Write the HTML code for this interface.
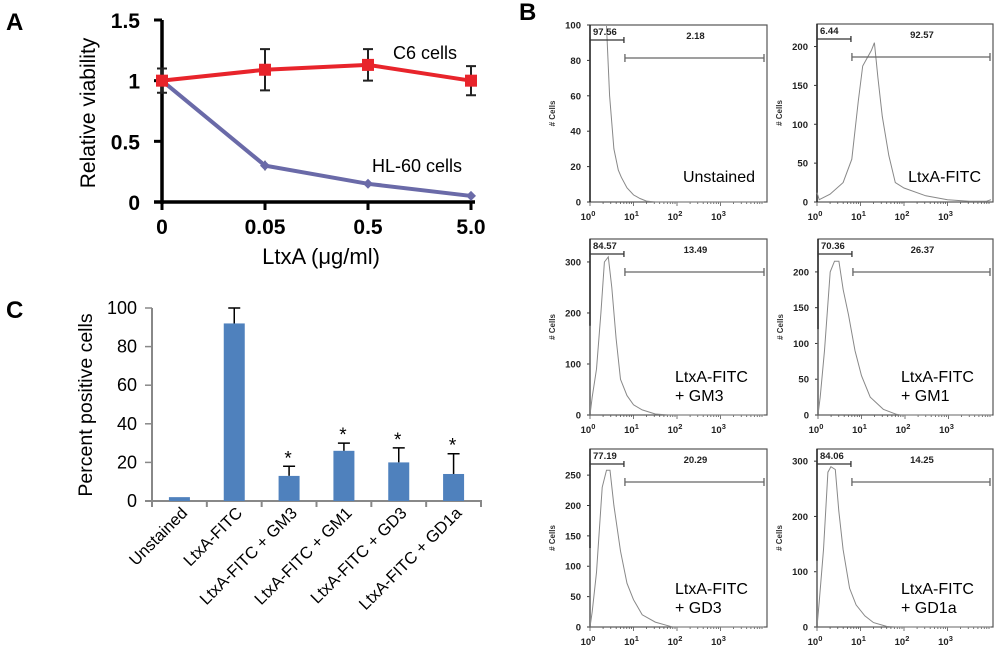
<!DOCTYPE html>
<html><head><meta charset="utf-8">
<style>
html,body{margin:0;padding:0;background:#fff;}
svg{display:block;font-family:"Liberation Sans",Arial,sans-serif;}
</style></head>
<body>
<svg id="fig" width="1000" height="652" viewBox="0 0 1000 652" xmlns="http://www.w3.org/2000/svg">
<text x="6" y="30" font-size="24" font-weight="bold">A</text>
<text x="519" y="20" font-size="24" font-weight="bold">B</text>
<text x="6" y="318" font-size="24" font-weight="bold">C</text>
<g id="pa"></g>
<g id="pc"></g>
<g id="pb"></g>
</svg>
<script>
// ---------- Panel A data ----------
const aCategories = ["0","0.05","0.5","5.0"];
const aYTicks = [0,0.5,1,1.5];
const aYTickLabels = ["0","0.5","1","1.5"];
const c6Values = [1.0,1.09,1.13,1.0];
const c6Errors = [0.1,0.17,0.13,0.12];
const hl60Values = [1.0,0.30,0.15,0.05];
const hl60Errors = [0.02,0.04,0.02,0.01];
// ---------- Panel C data ----------
const cCategories = ["Unstained","LtxA-FITC","LtxA-FITC + GM3","LtxA-FITC + GM1","LtxA-FITC + GD3","LtxA-FITC + GD1a"];
const cValues = [2,92,13,26,20,14];
const cErrors = [0,8,5,4,7.5,10.5];
const cStars = [false,false,true,true,true,true];
const cYTicks = [0,20,40,60,80,100];
// ---------- Panel B data ----------
const bNames = [["Unstained"],["LtxA-FITC"],["LtxA-FITC","+ GM3"],["LtxA-FITC","+ GM1"],["LtxA-FITC","+ GD3"],["LtxA-FITC","+ GD1a"]];
const bLeftGate = ["97.56","6.44","84.57","70.36","77.19","84.06"];
const bRightGate = ["2.18","92.57","13.49","26.37","20.29","14.25"];
const bYMax = [100,229,345,246,293,322];
const bYTicks = [[0,20,40,60,80,100],[0,50,100,150,200],[0,100,200,300],[0,50,100,150,200],[0,50,100,150,200,250],[0,100,200,300]];
const bHistX = [
 [0.38,0.45,0.55,0.65,0.72,0.85,1.0,1.15,1.3,1.5,2,3,4],
 [0,0.05,0.3,0.6,0.8,0.95,1.05,1.15,1.25,1.32,1.4,1.5,1.65,1.8,2.0,2.5,3.0,3.5,3.9,4],
 [0,0,0.05,0.15,0.25,0.33,0.42,0.5,0.6,0.7,0.85,1.0,1.2,1.5,1.8,4],
 [0,0,0.05,0.15,0.28,0.38,0.48,0.58,0.7,0.85,1.0,1.2,1.5,1.8,1.9,4],
 [0,0,0.05,0.15,0.28,0.38,0.46,0.55,0.7,0.85,1.0,1.2,1.5,1.8,1.9,4],
 [0,0,0.05,0.15,0.25,0.32,0.42,0.5,0.6,0.75,0.9,1.1,1.3,1.6,1.8,4]];
const bHistY = [
 [110,60,30,18,14,8,4,2,0.5,0,0,0,0],
 [12,3,10,25,55,130,175,185,195,205,160,110,60,25,18,8,3,1,1,3],
 [175,0,35,90,200,300,310,250,150,70,38,20,10,2,0,0],
 [120,0,25,90,200,215,215,175,140,90,55,25,8,1,0,0],
 [130,0,25,90,230,258,258,200,125,72,45,20,8,2,0,0],
 [120,0,45,140,280,290,285,210,140,70,40,20,8,1,0,0]];

const NS="http://www.w3.org/2000/svg";
function mk(parent,tag,attrs,text){const e=document.createElementNS(NS,tag);for(const k in attrs)e.setAttribute(k,attrs[k]);if(text!==undefined)e.textContent=text;parent.appendChild(e);return e;}

// ================= Panel A =================
(function(){
 const g=document.getElementById('pa');
 const x0=162,x1=471,y0=202,yTop=20;
 const xA=i=>x0+i*(x1-x0)/(aCategories.length-1);
 const yA=v=>y0-(v/1.5)*(y0-yTop);
 let e=mk(g,'line',{x1:x0,y1:yTop,x2:x0,y2:y0+2,stroke:'#000','stroke-width':3.5});
 
 e=mk(g,'line',{x1:154,y1:y0,x2:475,y2:y0,stroke:'#000','stroke-width':3.5});
 
 aYTicks.forEach((v,i)=>{
  mk(g,'line',{x1:154,y1:yA(v),x2:x0,y2:yA(v),stroke:'#000','stroke-width':3});
  const t=mk(g,'text',{x:140,y:yA(v)+8,'font-size':21,'font-weight':'bold','text-anchor':'end'},aYTickLabels[i]);
  
 });
 aCategories.forEach((c,i)=>{
  mk(g,'line',{x1:xA(i),y1:y0,x2:xA(i),y2:y0+8,stroke:'#000','stroke-width':3});
  const t=mk(g,'text',{x:xA(i),y:234,'font-size':21,'font-weight':'bold','text-anchor':'middle'},c);
  
 });
 let t=mk(g,'text',{x:321,y:264,'font-size':22,'text-anchor':'middle'},'LtxA (μg/ml)');
 
 t=mk(g,'text',{x:0,y:0,'font-size':21,'text-anchor':'middle',transform:'translate(95,113) rotate(-90)'},'Relative viability');
 
 let p=hl60Values.map((v,i)=>(i?'L':'M')+xA(i)+','+yA(v)).join(' ');
 e=mk(g,'path',{d:p,fill:'none',stroke:'#6a6aa8','stroke-width':4});
 
 hl60Values.forEach((v,i)=>{
  mk(g,'line',{x1:xA(i),y1:yA(v+hl60Errors[i]),x2:xA(i),y2:yA(v-hl60Errors[i]),stroke:'#333','stroke-width':1.5});
  const m=mk(g,'path',{d:`M${xA(i)-5},${yA(v)} L${xA(i)},${yA(v)-5} L${xA(i)+5},${yA(v)} L${xA(i)},${yA(v)+5}Z`,fill:'#6a6aa8'});
  
 });
 p=c6Values.map((v,i)=>(i?'L':'M')+xA(i)+','+yA(v)).join(' ');
 e=mk(g,'path',{d:p,fill:'none',stroke:'#e8242b','stroke-width':4});
 
 c6Values.forEach((v,i)=>{
  const hi=yA(v+c6Errors[i]),lo=yA(v-c6Errors[i]);
  mk(g,'path',{d:`M${xA(i)},${hi}V${lo}M${xA(i)-5},${hi}h10M${xA(i)-5},${lo}h10`,stroke:'#222','stroke-width':2,fill:'none'});
  const m=mk(g,'rect',{x:xA(i)-6,y:yA(v)-6,width:12,height:12,fill:'#e8242b'});
  
 });
 t=mk(g,'text',{x:393,y:59,'font-size':18},'C6 cells');
 
 t=mk(g,'text',{x:372,y:172,'font-size':18},'HL-60 cells');
 
})();

// ================= Panel C =================
(function(){
 const g=document.getElementById('pc');
 const x0=152,x1=481,y0=501,yTop=308;
 const n=cCategories.length,step=(x1-x0)/n;
 const xC=i=>x0+step*(i+0.5);
 const yC=v=>y0-(v/100)*(y0-yTop);
 cYTicks.forEach(v=>{
  mk(g,'line',{x1:145,y1:yC(v),x2:x0,y2:yC(v),stroke:'#888','stroke-width':1.5});
  const t=mk(g,'text',{x:137,y:yC(v)+6,'font-size':18,'text-anchor':'end'},String(v));
  
 });
 let e=mk(g,'line',{x1:x0,y1:yTop,x2:x0,y2:y0,stroke:'#888','stroke-width':2});
 
 e=mk(g,'line',{x1:145,y1:y0,x2:x1+1,y2:y0,stroke:'#888','stroke-width':2});
 
 for(let i=0;i<=n;i++)mk(g,'line',{x1:x0+i*step,y1:y0,x2:x0+i*step,y2:y0+6,stroke:'#888','stroke-width':2});
 cCategories.forEach((c,i)=>{
  const cx=xC(i),v=cValues[i];
  if(cErrors[i]>0){
   mk(g,'path',{d:`M${cx},${yC(v)}V${yC(v+cErrors[i])}M${cx-6},${yC(v+cErrors[i])}h12`,stroke:'#000','stroke-width':1.5,fill:'none'});
  }
  const b=mk(g,'rect',{x:cx-10.5,y:yC(v),width:21,height:y0-yC(v),fill:'#4f81bd'});
  
  if(cStars[i]){
   const s=mk(g,'text',{x:cx-1,y:yC(v+cErrors[i])-2,'font-size':19,'text-anchor':'middle'},'*');
   
  }
  const t=mk(g,'text',{x:0,y:0,'font-size':16.5,'text-anchor':'end',transform:`translate(${cx+9},${y0+13}) rotate(-45)`},c);
  
 });
 const t=mk(g,'text',{x:0,y:0,'font-size':19.5,'text-anchor':'middle',transform:'translate(92,405) rotate(-90)'},'Percent positive cells');
 
})();

// ================= Panel B =================
(function(){
 const g=document.getElementById('pb');
 const boxes=[[590,767,25,202],[817,993,24,202],[590,767,239,415],[818,993,239,415],[590,767,449,627],[817,993,449,627]];
 boxes.forEach((bx,k)=>{
  const [L,R,T,B]=bx;
  const sub=mk(g,'g',{});
  
  const dec=43.5;
  const xs=d=>L+d*dec;
  const ys=v=>B-(v/bYMax[k])*(B-T);
  mk(sub,'rect',{x:L,y:T,width:R-L,height:B-T,fill:'none',stroke:'#555','stroke-width':1.2});
  mk(sub,'line',{x1:L,y1:T,x2:L,y2:B,stroke:'#222','stroke-width':1.5});
  bYTicks[k].forEach(v=>{
   mk(sub,'line',{x1:L-3,y1:ys(v),x2:L,y2:ys(v),stroke:'#333','stroke-width':1});
   const t=mk(sub,'text',{x:L-9,y:ys(v)+3.5,'font-size':9.5,'font-weight':'bold','text-anchor':'end',fill:'#222'},String(v));
   
  });
  for(let d=0;d<4;d++){
   const t=mk(sub,'text',{x:xs(d)-2,y:B+18,'font-size':9.5,'font-weight':'bold','text-anchor':'middle',fill:'#222'},'10');
   mk(t,'tspan',{dy:-4,'font-size':7.5},String(d));
   
   for(let m=1;m<10;m++){const xx=xs(d+Math.log10(m));mk(sub,'line',{x1:xx,y1:B,x2:xx,y2:B+(m==1?4:2),stroke:'#555','stroke-width':0.8});}
  }
  const yt=mk(sub,'text',{x:0,y:0,'font-size':8,'font-weight':'bold','text-anchor':'middle',fill:'#333',transform:`translate(${L-35},${(T+B)/2}) rotate(-90)`},'# Cells');
  
  const pts=bHistX[k].map((d,i)=>[xs(d),Math.max(T+1,ys(bHistY[k][i]))]);
  const h=mk(sub,'path',{d:pts.map((p,i)=>(i?'L':'M')+p[0].toFixed(1)+','+p[1].toFixed(1)).join(' '),fill:'none',stroke:'#888','stroke-width':1});
  
  const gl=xs(0.78);
  mk(sub,'path',{d:`M${L},${T+15}H${gl}M${L},${T+12}v6M${gl},${T+12}v6`,stroke:'#333','stroke-width':1.3,fill:'none'});
  mk(sub,'path',{d:`M${gl+1},${T+33}H${R-3}M${gl+1},${T+29}v8M${R-3},${T+29}v8`,stroke:'#666','stroke-width':1.3,fill:'none'});
  let t=mk(sub,'text',{x:L+3,y:T+10,'font-size':9.5,'font-weight':'bold',fill:'#222'},bLeftGate[k]);
  
  t=mk(sub,'text',{x:(gl+R)/2,y:T+14,'font-size':9.5,'font-weight':'bold','text-anchor':'middle',fill:'#222'},bRightGate[k]);
  
  const lines=bNames[k];
  if(lines.length===1){
   t=mk(sub,'text',{x:R-12,y:B-20,'font-size':16,'text-anchor':'end'},lines[0]);
  }else{
   t=mk(sub,'text',{x:R-92,y:B-33,'font-size':16},lines[0]);
   mk(t,'tspan',{x:R-92,dy:19},lines[1]);
  }
  
 });
})();
</script>
</body></html>
